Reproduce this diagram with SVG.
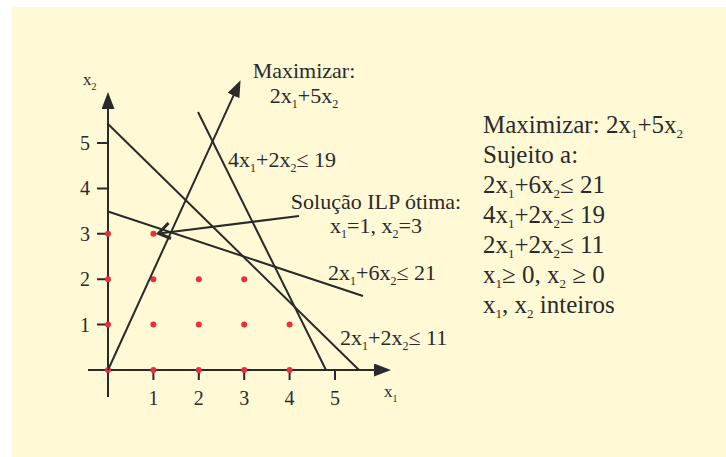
<svg xmlns="http://www.w3.org/2000/svg" width="726" height="457" viewBox="0 0 726 457">
<defs>
<style>
.t{font-family:"Liberation Serif","Times New Roman",serif;fill:#2a2a2a}
.d{font-size:22px}
.r{font-size:25px}
.n{font-size:20px}
.a{font-size:17px}
.s{font-size:12px}
.sr{font-size:13px}
.sa{font-size:10px}
.ln{stroke:#2a2a2a;stroke-width:2;fill:none}
.dot{fill:#e8303c}
</style>
<marker id="ah" viewBox="0 0 17 13" refX="2" refY="6.5" markerWidth="17" markerHeight="13" orient="auto" markerUnits="userSpaceOnUse">
<path d="M0,0 L17,6.5 L0,13 Z" fill="#2a2a2a"/>
</marker>
</defs>
<rect x="11.5" y="7" width="714.5" height="450" fill="#fff9d5"/>

<g id="axes">
<line class="ln" x1="108" y1="397" x2="108" y2="107" marker-end="url(#ah)"/>
<line class="ln" x1="88" y1="370" x2="376" y2="370" marker-end="url(#ah)"/>
<path class="ln" d="M97,324.6H108M97,279.2H108M97,233.8H108M97,188.4H108M97,143H108"/>
<path class="ln" d="M153.4,370V380M198.8,370V380M244.2,370V380M289.6,370V380M335,370V380"/>
<g class="t n" text-anchor="middle">
<text x="85" y="331.6">1</text>
<text x="85" y="286.2">2</text>
<text x="85" y="240.8">3</text>
<text x="85" y="195.4">4</text>
<text x="85" y="150">5</text>
<text x="153.4" y="405">1</text>
<text x="198.8" y="405">2</text>
<text x="244.2" y="405">3</text>
<text x="289.6" y="405">4</text>
<text x="335" y="405">5</text>
</g>
<text class="t a" x="83" y="85">x<tspan class="sa" dy="5">2</tspan></text>
<text class="t a" x="384" y="397">x<tspan class="sa" dy="5">1</tspan></text>
</g>

<g id="points">
<circle class="dot" cx="108" cy="370" r="3"/>
<circle class="dot" cx="153.4" cy="370" r="3"/>
<circle class="dot" cx="198.8" cy="370" r="3"/>
<circle class="dot" cx="244.2" cy="370" r="3"/>
<circle class="dot" cx="289.6" cy="370" r="3"/>
<circle class="dot" cx="108" cy="324.6" r="3"/>
<circle class="dot" cx="153.4" cy="324.6" r="3"/>
<circle class="dot" cx="198.8" cy="324.6" r="3"/>
<circle class="dot" cx="244.2" cy="324.6" r="3"/>
<circle class="dot" cx="289.6" cy="324.6" r="3"/>
<circle class="dot" cx="108" cy="279.2" r="3"/>
<circle class="dot" cx="153.4" cy="279.2" r="3"/>
<circle class="dot" cx="198.8" cy="279.2" r="3"/>
<circle class="dot" cx="244.2" cy="279.2" r="3"/>
<circle class="dot" cx="108" cy="233.8" r="3"/>
<circle class="dot" cx="153.4" cy="233.8" r="3"/>
</g>

<g id="connectors">
<line class="ln" x1="108" y1="370" x2="234.3" y2="93.8" marker-end="url(#ah)"/>
<line class="ln" x1="108" y1="211.5" x2="363" y2="296"/>
<line class="ln" x1="108" y1="124" x2="359" y2="370"/>
<line class="ln" x1="198" y1="112" x2="326" y2="370"/>
<line class="ln" x1="299" y1="216" x2="159" y2="233.5"/>
<path d="M168.5,223 L158.5,233.5 L171,238.5" stroke="#2a2a2a" stroke-width="3" fill="none"/>
</g>

<g id="label-objective">
<text class="t d" x="304" y="78" text-anchor="middle">Maximizar:</text>
<text class="t d" x="304" y="103" text-anchor="middle">2x<tspan class="s" dy="5">1</tspan><tspan dy="-5">+5x</tspan><tspan class="s" dy="5">2</tspan></text>
</g>
<g id="label-c2">
<text class="t d" x="228" y="167">4x<tspan class="s" dy="5">1</tspan><tspan dy="-5">+2x</tspan><tspan class="s" dy="5">2</tspan><tspan dy="-5">≤ 19</tspan></text>
</g>
<g id="label-solution">
<text class="t d" x="376" y="209" text-anchor="middle">Solução ILP ótima:</text>
<text class="t d" x="376" y="233" text-anchor="middle">x<tspan class="s" dy="5">1</tspan><tspan dy="-5">=1, x</tspan><tspan class="s" dy="5">2</tspan><tspan dy="-5">=3</tspan></text>
</g>
<g id="label-c1">
<text class="t d" x="328" y="280">2x<tspan class="s" dy="5">1</tspan><tspan dy="-5">+6x</tspan><tspan class="s" dy="5">2</tspan><tspan dy="-5">≤ 21</tspan></text>
</g>
<g id="label-c3">
<text class="t d" x="340" y="345">2x<tspan class="s" dy="5">1</tspan><tspan dy="-5">+2x</tspan><tspan class="s" dy="5">2</tspan><tspan dy="-5">≤ 11</tspan></text>
</g>

<g id="problem">
<text class="t r" x="483" y="133">Maximizar: 2x<tspan class="sr" dy="5">1</tspan><tspan dy="-5">+5x</tspan><tspan class="sr" dy="5">2</tspan></text>
<text class="t r" x="483" y="163">Sujeito a:</text>
<text class="t r" x="483" y="193">2x<tspan class="sr" dy="5">1</tspan><tspan dy="-5">+6x</tspan><tspan class="sr" dy="5">2</tspan><tspan dy="-5">≤ 21</tspan></text>
<text class="t r" x="483" y="223">4x<tspan class="sr" dy="5">1</tspan><tspan dy="-5">+2x</tspan><tspan class="sr" dy="5">2</tspan><tspan dy="-5">≤ 19</tspan></text>
<text class="t r" x="483" y="253">2x<tspan class="sr" dy="5">1</tspan><tspan dy="-5">+2x</tspan><tspan class="sr" dy="5">2</tspan><tspan dy="-5">≤ 11</tspan></text>
<text class="t r" x="483" y="283">x<tspan class="sr" dy="5">1</tspan><tspan dy="-5">≥ 0, x</tspan><tspan class="sr" dy="5">2</tspan><tspan dy="-5"> ≥ 0</tspan></text>
<text class="t r" x="483" y="313">x<tspan class="sr" dy="5">1</tspan><tspan dy="-5">, x</tspan><tspan class="sr" dy="5">2</tspan><tspan dy="-5"> inteiros</tspan></text>
</g>
</svg>
